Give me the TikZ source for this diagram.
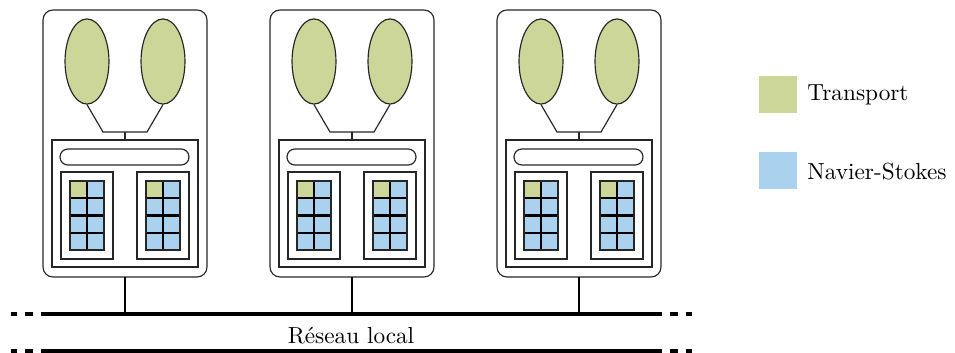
\documentclass[tikz,border=0pt]{standalone}
\usetikzlibrary{shapes.geometric}
\definecolor{transport}{RGB}{205,214,153}
\definecolor{navier}{RGB}{170,209,237}
\tikzset{
  cadre/.style={draw=black!85, line width=0.5pt},
  coeur/.style={ellipse, draw=black!85, fill=transport, line width=0.5pt,
    minimum width=18.9pt, minimum height=36.6pt, inner sep=0pt},
  reseau/.style={line width=1.3pt},
  pointilles/.style={reseau, dash pattern=on 3.4pt off 3.4pt},
}
\begin{document}
\begin{tikzpicture}[x=0.43pt, y=-0.43pt]
\useasboundingbox (0,0) rectangle (955,353);
\foreach \i/\dx in {1/0, 2/227, 3/454} {
  \begin{scope}[shift={(\dx,0)}]
    \draw[cadre, rounded corners=4.3pt] (43,10) rectangle (207,277);
    \node[coeur] (coeurA\i) at (87,61.5) {};
    \node[coeur] (coeurB\i) at (163,61.5) {};
    \coordinate (jonction\i) at (125,132);
    \coordinate (puce\i) at (125,140);
    \draw[cadre] (coeurA\i.south) -- (103,132) -- (147,132) -- (coeurB\i.south);
    \draw[cadre] (jonction\i) -- (puce\i);
    \draw[cadre] (52,140) rectangle (198,267);
    \draw[cadre, rounded corners=3.4pt] (60,149) rectangle (189,165);
    \foreach \gx in {61,137} {
      \draw[cadre] (\gx,172) rectangle ++(52,87);
      \fill[navier] (\gx+9,181) rectangle ++(34,69);
      \fill[transport] (\gx+9,181) rectangle ++(17,17.25);
      \draw[line width=0.9pt] (\gx+26,181) -- ++(0,69);
      \foreach \r in {1,2,3}
        \draw[line width=0.9pt] (\gx+9,181+\r*17.25) -- ++(34,0);
      \draw[cadre] (\gx+9,181) rectangle ++(34,69);
    }
    \coordinate (pied\i) at (125,277);
    \coordinate (bus\i) at (125,314);
    \draw[line width=1pt] (pied\i) -- (bus\i);
  \end{scope}
}
% reseau local
\coordinate (ouestA) at (49,314);
\coordinate (estA) at (654,314);
\coordinate (ouestB) at (49,351);
\coordinate (estB) at (654,351);
\draw[reseau] (ouestA) -- (estA);
\draw[reseau] (ouestB) -- (estB);
\draw[pointilles] (ouestA) -- (11,314);
\draw[pointilles] (estA) -- (692,314);
\draw[pointilles] (ouestB) -- (11,351);
\draw[pointilles] (estB) -- (692,351);
\node[anchor=base] (reseau) at (351,343) {Réseau local};
% legende
\fill[transport] (759,76) rectangle (797,113);
\fill[navier] (759,152) rectangle (797,189);
\node[anchor=base west, inner sep=0pt] (legT) at (807,100) {Transport};
\node[anchor=base west, inner sep=0pt] (legNS) at (807,179) {Navier-Stokes};
\end{tikzpicture}
\end{document}
